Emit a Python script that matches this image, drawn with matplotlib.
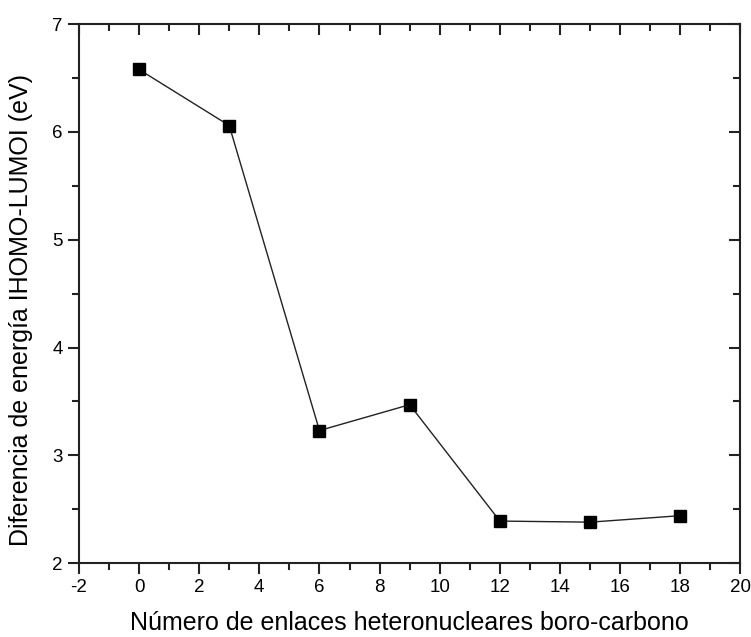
import matplotlib
matplotlib.use('Agg')
import matplotlib.pyplot as plt
from matplotlib.ticker import MultipleLocator

plt.rcParams['font.family'] = ['Liberation Sans', 'DejaVu Sans']
plt.rcParams['axes.unicode_minus'] = False

# data
enlaces = [0, 3, 6, 9, 12, 15, 18]
gap_ev = [6.58, 6.06, 3.23, 3.47, 2.39, 2.38, 2.44]

fig = plt.figure(figsize=(7.51, 6.37), dpi=100)
ax = fig.add_axes([0.105, 0.116, 0.881, 0.846])

ax.plot(enlaces, gap_ev, color='#222222', lw=1.0, marker='s', ms=9,
        mfc='black', mec='black')

ax.set_xlim(-2, 20)
ax.set_ylim(2, 7)
ax.xaxis.set_major_locator(MultipleLocator(2))
ax.xaxis.set_minor_locator(MultipleLocator(1))
ax.yaxis.set_major_locator(MultipleLocator(1))
ax.yaxis.set_minor_locator(MultipleLocator(0.5))

for s in ax.spines.values():
    s.set_linewidth(1.5)
    s.set_color('#222222')

# outward on left/bottom, inward on top/right
ax.tick_params(which='both', direction='out', top=False, right=False,
               width=1.5, color='#222222', labelsize=13.5)
ax.tick_params(which='major', length=8)
ax.tick_params(which='minor', length=5)

axt = ax.secondary_xaxis('top')
axt.xaxis.set_major_locator(MultipleLocator(2))
axt.xaxis.set_minor_locator(MultipleLocator(1))
axt.tick_params(which='both', direction='in', labeltop=False, width=1.5, color='#222222')
axt.tick_params(which='major', length=8)
axt.tick_params(which='minor', length=5)
axr = ax.secondary_yaxis('right')
axr.yaxis.set_major_locator(MultipleLocator(1))
axr.yaxis.set_minor_locator(MultipleLocator(0.5))
axr.tick_params(which='both', direction='in', labelright=False, width=1.5, color='#222222')
axr.tick_params(which='major', length=8)
axr.tick_params(which='minor', length=5)
for sa in (axt, axr):
    for s in sa.spines.values():
        s.set_visible(False)

ax.set_xlabel('Número de enlaces heteronucleares boro-carbono', fontsize=18, labelpad=11)
ax.set_ylabel('Diferencia de energía IHOMO-LUMOI (eV)', fontsize=18)
ax.yaxis.set_label_coords(-0.07, 0.469)

fig.savefig('out.png', dpi=100, facecolor='white')
